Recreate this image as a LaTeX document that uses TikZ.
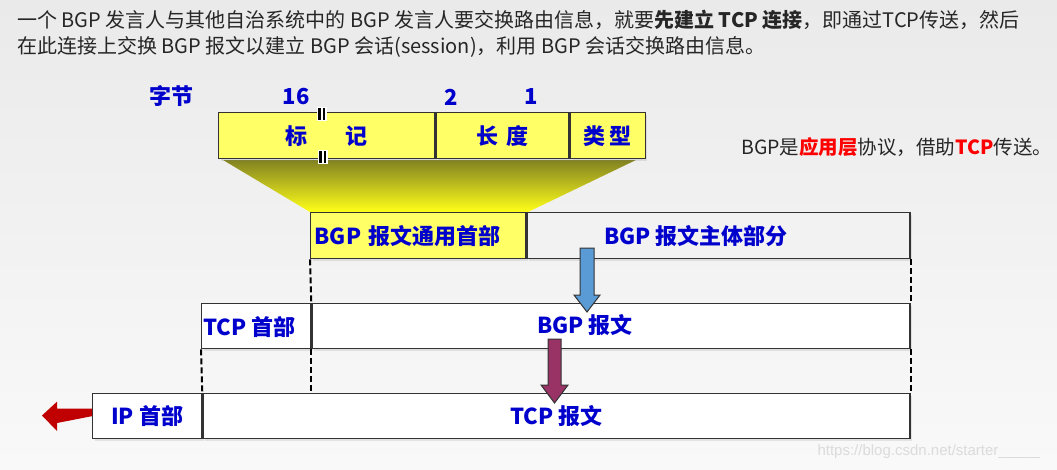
\documentclass[tikz,border=0pt]{standalone}
\usepackage{fontspec}
\setmainfont{Noto Sans CJK SC}
\newfontfamily\urlfont{Liberation Sans}
\usetikzlibrary{shadows}
\definecolor{lblue}{RGB}{0,0,204}
\definecolor{hyellow}{RGB}{255,255,102}
\definecolor{bodygray}{RGB}{242,242,242}
\definecolor{arrblue}{RGB}{91,155,213}
\definecolor{arrmaroon}{RGB}{153,51,102}
\definecolor{arrred}{RGB}{192,0,0}
\definecolor{olivedk}{RGB}{130,130,34}
\definecolor{yelbright}{RGB}{255,255,25}
\definecolor{bgtop}{RGB}{234,234,234}
\definecolor{bgbot}{RGB}{249,249,249}
\newcommand\lbfont{\bfseries\fontsize{22}{22}\selectfont}

\begin{document}
\begin{tikzpicture}[x=1pt,y=-1pt,
  box/.style={draw=black!80, line width=1.3pt, anchor=north west,
    inner sep=0pt, minimum height=46pt, text=lblue, font=\lbfont},
  shd/.style={drop shadow={shadow xshift=2pt,shadow yshift=-2pt,opacity=.18}},
  lbl/.style={text=lblue, font=\lbfont, inner sep=0pt},
  note/.style={text=black!85, inner sep=0pt, anchor=west},
  guide/.style={line width=2pt, dash pattern=on 6pt off 3pt},
  barrow/.style={draw=black!80, line width=1pt}]
  \useasboundingbox (0,0) rectangle (1057,469);
  \shade[top color=bgtop, bottom color=bgbot] (0,0) rectangle (1057,469);

  % explanation
  \node[note, font=\fontsize{20}{20}\selectfont] (intro1) at (17,20)
    {一个 BGP 发言人与其他自治系统中的 BGP 发言人要交换路由信息，就要\textbf{先建立 TCP 连接}，即通过TCP传送，然后};
  \node[note, font=\fontsize{20}{20}\selectfont] (intro2) at (17,47)
    {在此连接上交换 BGP 报文以建立 BGP 会话(session)，利用 BGP 会话交换路由信息。};
  \node[note, font=\fontsize{19.5}{19.5}\selectfont] (role) at (741,147)
    {BGP是\textcolor{red}{\textbf{应用层}}协议，借助\textcolor{red}{\textbf{TCP}}传送。};

  % header fields
  \shade[top color=olivedk, bottom color=yelbright]
    (223,160) -- (636,160) -- (528,212) -- (310,212) -- cycle;
  \node[lbl] (bytes) at (171,96) {字节};
  \node[lbl] (n16) at (296,97) {16};
  \node[lbl] (n2) at (451,97) {2};
  \node[lbl] (n1) at (531,97) {1};
  \node[box, fill=hyellow, shd, minimum width=216pt] (mark) at (218,112) {标\hspace{38pt}记};
  \node[box, fill=hyellow, shd, minimum width=133pt] (len) at (mark.north east) {长\hspace{8pt}度};
  \node[box, fill=hyellow, shd, minimum width=75pt] (kind) at (len.north east) {类\hspace{4pt}型};
  \foreach \y/\d in {114/0,157/1} {
    \fill[white] (317+\d,\y-7) rectangle (327+\d,\y+7);
    \fill[black] (318+\d,\y-6) rectangle (320.5+\d,\y+6);
    \fill[black] (322.5+\d,\y-6) rectangle (325+\d,\y+6);
  }

  % BGP message
  \node[box, fill=hyellow, shd, minimum width=215pt, text width=207pt,
    inner xsep=4pt, align=left] (common) at (310,212) {BGP 报文通用首部};
  \node[box, fill=bodygray, shd, minimum width=383pt] (body) at (common.north east) {};
  \node[lbl] (bodytxt) at (696,236) {BGP 报文主体部分};

  % TCP segment
  \node[box, fill=white, shd, minimum width=109pt, minimum height=45pt] (tcphdr) at (201,303) {};
  \node[lbl, anchor=west] (tcphdrtxt) at (203,327) {TCP 首部};
  \node[box, fill=white, shd, minimum width=598pt, minimum height=45pt] (bgpmsg) at (tcphdr.north east) {};
  \node[lbl] (bgpmsgtxt) at (585,325) {BGP 报文};

  % IP datagram
  \node[box, fill=white, shd, minimum width=109pt, minimum height=45pt] (iphdr) at (92,393) {IP 首部};
  \node[box, fill=white, shd, minimum width=707pt, minimum height=45pt] (tcpmsg) at (iphdr.north east) {TCP 报文};

  \draw[guide] (common.south west) -- (bgpmsg.north west);
  \draw[guide] (body.south east) -- (bgpmsg.north east);
  \draw[guide] (tcphdr.south west) -- (tcpmsg.north west);
  \draw[guide] (bgpmsg.south west) -- (bgpmsg.south west |- tcpmsg.north);
  \draw[guide] (bgpmsg.south east) -- (tcpmsg.north east);

  % arrows
  \filldraw[barrow, fill=arrblue] (580,248) -- (594,248) -- (594,295) -- (600,295)
    -- (587,312) -- (574,295) -- (580,295) -- cycle;
  \filldraw[barrow, fill=arrmaroon] (548,339) -- (561,339) -- (561,385) -- (568,385)
    -- (554.5,403) -- (541,385) -- (548,385) -- cycle;
  \fill[arrred] (iphdr.west) ++(0,-7.5) -- ++(-35,0) -- ++(0,-7) -- (42,415.5)
    -- (57,431) -- (57,423) -- (iphdr.west) -- cycle;

  \node[anchor=west, text=black!14, font=\urlfont\fontsize{15}{15}\selectfont] (wm)
    at (814,452) {https://blog.csdn.net/starter\_\_\_\_\_};
\end{tikzpicture}
\end{document}
